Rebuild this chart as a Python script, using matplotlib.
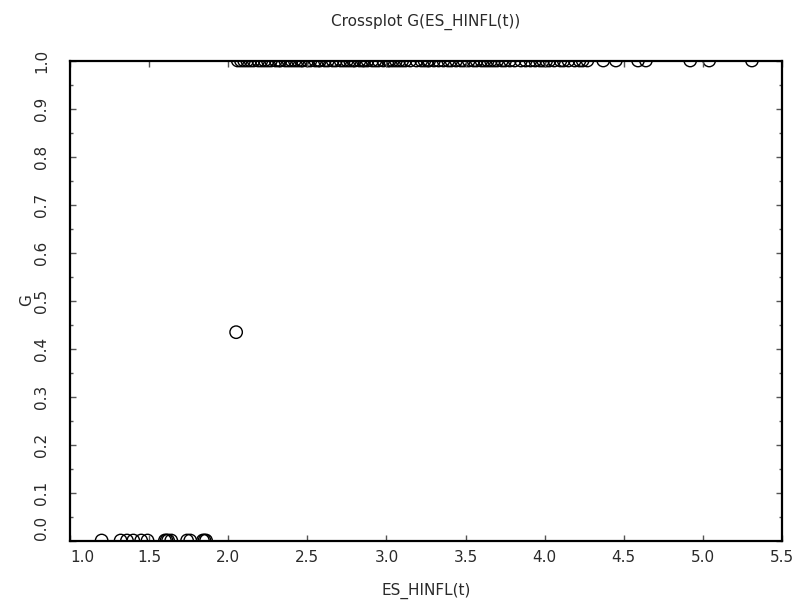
import numpy as np
import matplotlib
matplotlib.use("Agg")
import matplotlib.pyplot as plt
from matplotlib.ticker import MultipleLocator

# ES_HINFL(t) values, grouped by their G value
x_low = [1.20, 1.32, 1.36, 1.40, 1.45, 1.49, 1.60, 1.61, 1.62, 1.64,
         1.74, 1.76, 1.84, 1.85, 1.86]
g_low = 0.0

x_mid = [2.05]
g_mid = [0.434]

x_high = [2.06, 2.08, 2.10, 2.12, 2.14, 2.16, 2.19, 2.21, 2.23, 2.25,
          2.27, 2.30, 2.32, 2.33, 2.36, 2.38, 2.40, 2.42, 2.44, 2.46,
          2.47, 2.50, 2.52, 2.55, 2.57, 2.58, 2.61, 2.63, 2.66, 2.68,
          2.71, 2.73, 2.75, 2.77, 2.79, 2.80, 2.83, 2.85, 2.86, 2.88,
          2.91, 2.93, 2.95, 2.98, 3.01, 3.02, 3.04, 3.06, 3.08, 3.10,
          3.12, 3.15, 3.19, 3.22, 3.24, 3.26, 3.27, 3.30, 3.33, 3.36,
          3.39, 3.41, 3.44, 3.47, 3.49, 3.52, 3.55, 3.57, 3.60, 3.62,
          3.64, 3.66, 3.68, 3.70, 3.73, 3.75, 3.78, 3.81, 3.85, 3.88,
          3.91, 3.94, 3.97, 3.99, 4.01, 4.03, 4.06, 4.10, 4.12, 4.15,
          4.19, 4.22, 4.24, 4.27, 4.37, 4.45, 4.59, 4.64, 4.92, 5.04,
          5.31]
g_high = 1.0

x_ticks = [1.0, 1.5, 2.0, 2.5, 3.0, 3.5, 4.0, 4.5, 5.0, 5.5]
y_ticks = [0.0, 0.1, 0.2, 0.3, 0.4, 0.5, 0.6, 0.7, 0.8, 0.9, 1.0]

txt = "#2a2a2a"
plt.rcParams["font.family"] = "DejaVu Sans"

fig = plt.figure(figsize=(7.98, 6.07), dpi=100)
ax = fig.add_axes([70 / 798, 1 - 540.5 / 607, 712 / 798, 480 / 607])

# circles get cut at the frame (default clipping), like the original
sc = dict(s=80, facecolors="none", edgecolors="black", linewidths=1.0,
          clip_on=True)
ax.scatter(x_low, np.full(len(x_low), g_low), **sc)
ax.scatter(x_mid, g_mid, **sc)
ax.scatter(x_high, np.full(len(x_high), g_high), **sc)

ax.set_xlim(1.0, 5.5)
ax.set_ylim(0.0, 1.0)

for sp in ax.spines.values():
    sp.set_linewidth(1.6)
    sp.set_color("black")
    sp.set_zorder(3)

ax.set_xticks(x_ticks)
ax.set_xticklabels([f"{v:.1f}" for v in x_ticks])
ax.set_yticks(y_ticks)
ax.set_yticklabels([f"{v:.1f}" for v in y_ticks], rotation=90, va="center")
ax.yaxis.set_minor_locator(MultipleLocator(0.05))

ax.tick_params(which="both", direction="in", top=True, right=True,
               color="#555555", width=1.0, labelcolor=txt, labelsize=11)
ax.tick_params(which="major", length=4.5)
ax.tick_params(which="minor", length=2.5)
ax.tick_params(axis="x", pad=7)
ax.tick_params(axis="y", pad=15)

# first labels are nudged away from the corner like in the original
ax.get_xticklabels()[0].set_horizontalalignment("left")
ax.get_yticklabels()[0].set_verticalalignment("bottom")

ax.set_title("Crossplot G(ES_HINFL(t))", fontsize=11, color=txt, pad=25)
ax.set_xlabel("ES_HINFL(t)", fontsize=11, color=txt, labelpad=13)
ax.set_ylabel("G", fontsize=11, color=txt)
ax.yaxis.set_label_coords(-36 / 712, 0.5)

fig.savefig("out.png", dpi=100)
